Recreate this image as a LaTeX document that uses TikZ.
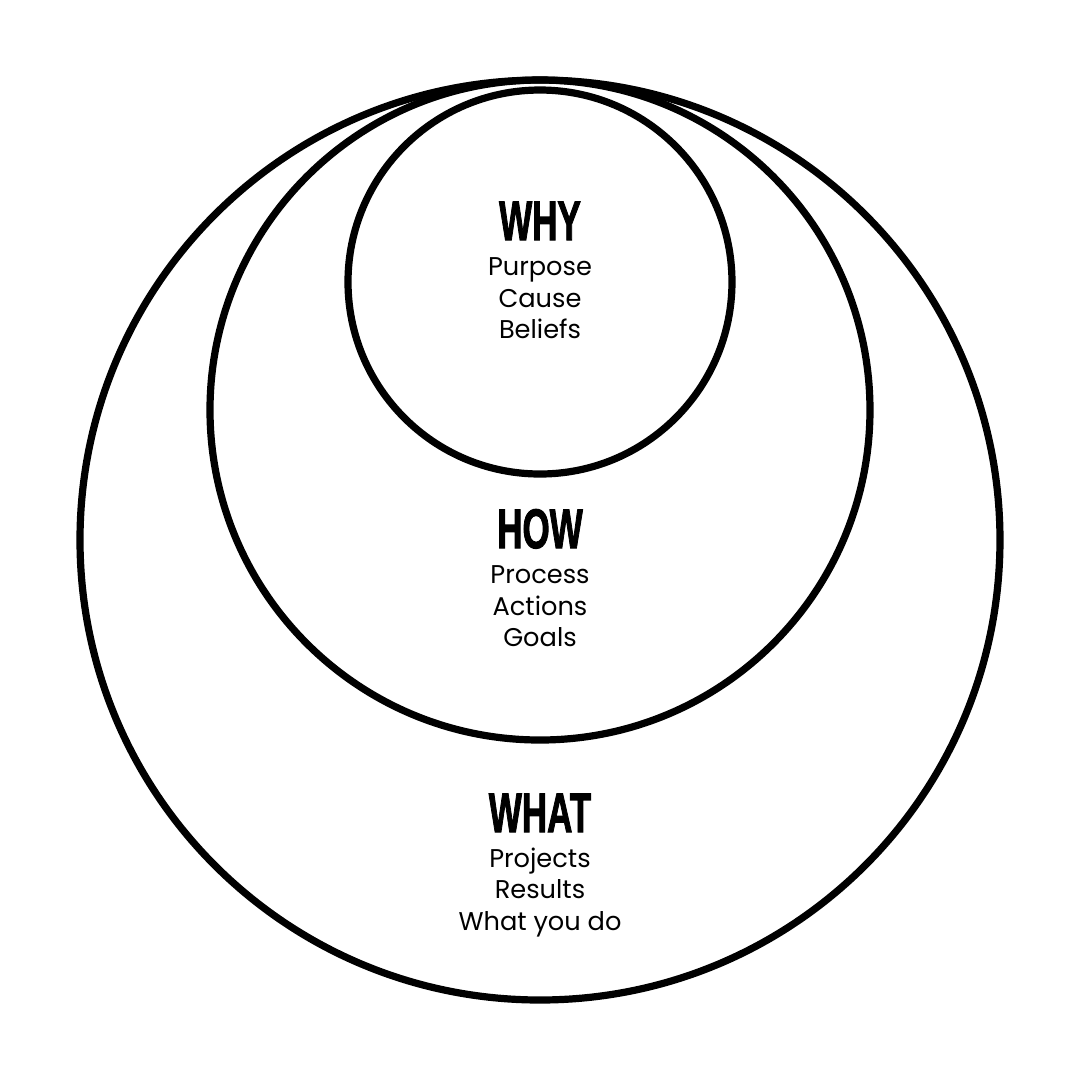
\documentclass[tikz,border=0pt]{standalone}
\usepackage{fontspec}
\setmainfont{Poppins}
\newfontfamily\headfont[FakeBold=2.2]{Liberation Sans}
\begin{document}
\begin{tikzpicture}[x=0.1mm,y=-0.1mm,
  ring/.style={draw=black,line width=0.72mm},
  head/.style={anchor=base,inner sep=0pt,font=\headfont\bfseries\fontsize{15.8}{18}\selectfont,xscale=0.63,transform shape},
  body/.style={anchor=base,inner sep=0pt,font=\fontsize{7.3}{9}\selectfont}]
\useasboundingbox[fill=white] (0,0) rectangle (1080,1080);
% the three nested circles, all touching near the top
\draw[ring] (540,540) circle[radius=460];
\draw[ring] (540,410) circle[radius=330];
\draw[ring] (540,282) circle[radius=192];
% inner circle
\node[head] (why) at (540,240) {WHY};
\node[body] (purpose) at (540,275) {Purpose};
\node[body] (cause) at (540,307) {Cause};
\node[body] (beliefs) at (540,338) {Beliefs};
% middle ring
\node[head] (how) at (540,548) {HOW};
\node[body] (process) at (540,583) {Process};
\node[body] (actions) at (540,615) {Actions};
\node[body] (goals) at (540,646) {Goals};
% outer ring
\node[head] (what) at (540,832) {WHAT};
\node[body] (projects) at (540,867) {Projects};
\node[body] (results) at (540,898) {Results};
\node[body] (whatyoudo) at (540,930) {What you do};
\end{tikzpicture}
\end{document}
